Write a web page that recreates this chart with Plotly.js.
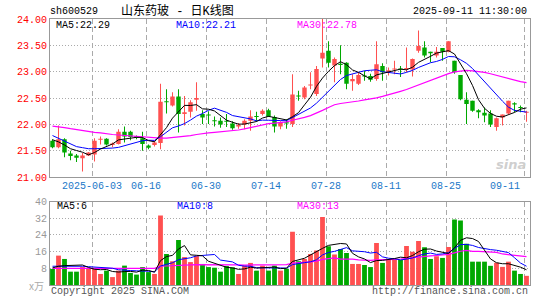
<!DOCTYPE html>
<html><head><meta charset="utf-8">
<script src="https://cdn.plot.ly/plotly-3.0.1.min.js"></script>
<style>html,body{margin:0;padding:0;background:#fff}#chart{width:545px;height:300px}</style>
</head><body><div id="chart"></div>
<script>
const dates = ['2025-05-22','2025-05-23','2025-05-26','2025-05-27','2025-05-28','2025-05-29','2025-05-30',
'2025-06-03','2025-06-04','2025-06-05','2025-06-06','2025-06-09','2025-06-10','2025-06-11','2025-06-12','2025-06-13','2025-06-16','2025-06-17','2025-06-18','2025-06-19','2025-06-20','2025-06-23','2025-06-24','2025-06-25','2025-06-26','2025-06-27','2025-06-30',
'2025-07-01','2025-07-02','2025-07-03','2025-07-04','2025-07-07','2025-07-08','2025-07-09','2025-07-10','2025-07-11','2025-07-14','2025-07-15','2025-07-16','2025-07-17','2025-07-18','2025-07-21','2025-07-22','2025-07-23','2025-07-24','2025-07-25','2025-07-28','2025-07-29','2025-07-30','2025-07-31',
'2025-08-01','2025-08-04','2025-08-05','2025-08-06','2025-08-07','2025-08-08','2025-08-11','2025-08-12','2025-08-13','2025-08-14','2025-08-15','2025-08-18','2025-08-19','2025-08-20','2025-08-21','2025-08-22','2025-08-25','2025-08-26','2025-08-27','2025-08-28','2025-08-29',
'2025-09-01','2025-09-02','2025-09-03','2025-09-04','2025-09-05','2025-09-08','2025-09-09','2025-09-10','2025-09-11'];

const openP = [21.69,21.57,21.72,21.45,21.41,21.36,21.41,21.43,21.71,21.73,
21.61,21.63,21.86,21.86,21.78,21.74,21.60,21.61,21.65,22.44,
22.36,22.53,22.20,22.24,22.47,22.20,22.18,22.07,22.07,22.06,
22.02,21.96,22.00,22.07,22.16,22.20,22.27,22.14,21.96,22.04,
22.01,22.55,22.51,22.74,22.58,23.25,23.40,23.12,23.15,23.17,
22.82,22.77,22.93,22.92,22.86,23.11,22.99,23.04,23.06,23.05,
23.04,23.40,23.46,23.38,23.31,23.45,23.38,23.21,22.94,22.47,
22.45,22.27,22.22,22.21,21.95,22.13,22.21,22.40,22.33,22.22];

const highP = [21.72,21.98,21.74,21.50,21.44,21.46,21.48,21.74,21.77,21.74,
21.66,21.91,21.96,21.88,21.79,21.86,21.62,21.68,22.77,22.67,
22.61,22.67,22.54,22.46,22.80,22.27,22.25,22.15,22.13,22.20,
22.06,22.03,22.10,22.27,22.24,22.29,22.30,22.17,22.06,22.10,
22.95,22.64,22.73,22.99,23.11,24.00,23.58,23.27,23.50,23.18,
22.95,22.99,23.02,22.96,23.58,23.16,23.08,23.21,23.11,23.46,
23.25,23.78,23.58,23.38,23.47,23.45,23.58,23.21,22.94,22.61,
22.45,22.29,22.32,22.27,22.13,22.19,22.45,22.42,22.36,22.26];

const lowP = [21.55,21.55,21.38,21.32,21.29,21.11,21.40,21.30,21.62,21.60,
21.57,21.62,21.66,21.70,21.72,21.50,21.53,21.58,21.53,22.21,
22.34,21.85,21.98,22.13,22.26,22.01,22.01,21.96,21.94,21.95,
21.90,21.92,21.91,21.88,22.05,22.17,22.14,21.85,21.91,21.92,
21.95,22.45,22.48,22.67,22.54,23.08,23.08,22.80,22.95,22.67,
22.64,22.75,22.83,22.81,22.83,22.83,22.93,22.95,22.90,22.99,
22.91,23.36,23.27,23.18,23.27,23.21,23.37,22.96,22.46,22.01,
22.24,22.12,22.04,21.95,21.88,21.98,22.18,22.23,22.23,22.05];

const closeP = [21.57,21.72,21.47,21.40,21.37,21.41,21.47,21.69,21.73,21.62,
21.64,21.86,21.77,21.76,21.75,21.63,21.56,21.66,22.43,22.42,
22.53,22.20,22.23,22.42,22.50,22.13,22.17,22.06,22.00,22.05,
21.93,21.99,22.07,22.15,22.14,22.26,22.15,21.96,22.04,22.02,
22.57,22.53,22.70,22.76,23.05,23.36,23.17,23.24,23.13,22.77,
22.86,22.94,22.91,22.85,23.14,22.99,23.03,23.05,23.04,23.07,
23.24,23.49,23.31,23.35,23.38,23.38,23.58,22.99,22.48,22.39,
22.26,22.23,22.17,22.00,22.12,22.19,22.45,22.38,22.31,22.24];

// volume, 万手
const volume = [7.7,14.1,12.5,6.4,6.4,8.6,8.2,8.2,5.3,6.9,
3.8,6.9,9.3,5.8,5.0,8.6,6.2,5.3,33.3,14.9,
11.4,21.6,13.4,11.0,13.9,10.1,8.6,8.3,6.4,9.1,
8.5,5.3,9.3,10.6,6.9,9.3,6.9,9.3,6.9,7.8,
25.6,11.4,12.5,14.9,16.5,32.6,18.6,14.6,17.3,15.4,
10.1,10.1,9.6,8.6,20.2,10.6,12.0,12.0,12.0,18.7,
16.0,21.1,18.1,12.5,13.8,13.0,18.2,31.4,30.9,19.8,
11.2,11.2,11.2,9.2,10.7,8.7,11.2,6.9,5.3,4.4];

// moving-average values before a full window is available
const priceMa5Head = [21.71,21.67,21.61,21.54];
const priceMa10Head = [21.79,21.74,21.68,21.63,21.58,21.56,21.54,21.54,21.54];
const priceMa30Head = [21.97,21.96,21.94,21.92,21.90,21.89,21.87,21.85,21.84,21.82,
21.81,21.80,21.79,21.78,21.77,21.76,21.75,21.74,21.74,21.74,
21.75,21.76,21.78,21.79,21.81,21.83,21.84,21.85,21.86];
const volMa5Head = [8.2,9.0,9.3,9.4];
const volMa10Head = [9.0,9.0,9.2,9.2,9.1,9.0,8.8,8.7,8.5];
const volMa30Head = [8.0,8.0,8.0,8.0,8.0,8.0,8.0,8.0,8.0,8.0,
8.0,8.0,8.0,8.0,8.0,8.0,8.0,8.0,9.0,9.2,
9.3,9.6,9.7,9.7,9.8,9.8,9.8,9.8,9.8];

const tickDates = ['2025-06-03','2025-06-16','2025-06-30','2025-07-14','2025-07-28','2025-08-11','2025-08-25','2025-09-11'];
const tickLabels = ['2025-06-03','06-16','06-30','07-14','07-28','08-11','08-25','09-11'];
const priceTicks = [21.0,21.5,22.0,22.5,23.0,23.5,24.0];
const volTicks = [8,16,24,32,40];

const titleCode = 'sh600529';
const titleName = '山东药玻 - 日K线图';
const titleTime = '2025-09-11 11:30:00';
const priceMaLabels = ['MA5:22.29','MA10:22.21','MA30:22.78'];
const volMaLabels = ['MA5:6','MA10:8','MA30:13'];

// ---------- build ----------
const RED = '#ff5050', GREEN = '#00a800';
const idx = dates.map((d,i)=>i);
const up = closeP.map((c,i)=> c >= openP[i]);
const candleColor = up.map(u => u ? RED : GREEN);

function movingAvg(vals, n, head){
  return vals.map((v,i)=>{
    if (i < n-1) return head[i];
    let s = 0; for (let k=i-n+1;k<=i;k++) s += vals[k];
    return s/n;
  });
}
const pMa5 = movingAvg(closeP,5,priceMa5Head);
const pMa10 = movingAvg(closeP,10,priceMa10Head);
const pMa30 = movingAvg(closeP,30,priceMa30Head);
const vMa5 = movingAvg(volume,5,volMa5Head);
const vMa10 = movingAvg(volume,10,volMa10Head);
const vMa30 = movingAvg(volume,30,volMa30Head);

const bodyBase = openP.map((o,i)=>Math.min(o,closeP[i]));
const bodyLen = openP.map((o,i)=>Math.max(Math.abs(closeP[i]-o),0.02));
const wickLen = highP.map((h,i)=>h-lowP[i]);

const GRID_SHIFT = -0.37;
const tickPos = tickDates.map(d => dates.indexOf(d) + GRID_SHIFT);

const MONO = 'Liberation Mono, Courier New, monospace';

const traces = [
  {type:'bar', x:idx, y:wickLen, base:lowP, width:0.17, marker:{color:candleColor, line:{width:0}}, xaxis:'x', yaxis:'y', hoverinfo:'skip'},
  {type:'bar', x:idx, y:bodyLen, base:bodyBase, width:0.74, marker:{color:candleColor, line:{width:0}}, xaxis:'x', yaxis:'y', hoverinfo:'skip'},
  {type:'scatter', mode:'lines', x:idx, y:pMa30, line:{color:'#ff00ff', width:1.2}, xaxis:'x', yaxis:'y'},
  {type:'scatter', mode:'lines', x:idx, y:pMa10, line:{color:'#0000ff', width:1}, xaxis:'x', yaxis:'y'},
  {type:'scatter', mode:'lines', x:idx, y:pMa5, line:{color:'#000000', width:1}, xaxis:'x', yaxis:'y'},
  {type:'bar', x:idx, y:volume, width:0.8, marker:{color:candleColor, line:{width:0}}, xaxis:'x2', yaxis:'y2', hoverinfo:'skip'},
  {type:'scatter', mode:'lines', x:idx, y:vMa30, line:{color:'#ff00ff', width:1.2}, xaxis:'x2', yaxis:'y2'},
  {type:'scatter', mode:'lines', x:idx, y:vMa10, line:{color:'#0000ff', width:1}, xaxis:'x2', yaxis:'y2'},
  {type:'scatter', mode:'lines', x:idx, y:vMa5, line:{color:'#000000', width:1}, xaxis:'x2', yaxis:'y2'}
];

// pixel helpers for text placement
const L=50, R=530, T=18.5, B=285;
const px = x => (x-L)/(R-L);
const py = y => (B-y)/(B-T);
function txt(text, x, y, color, size, anchor, family){
  return {text:text, xref:'paper', yref:'paper', x:px(x), y:py(y), xanchor:anchor||'left', yanchor:'middle',
    showarrow:false, font:{family:family||MONO, size:size||10, color:color||'#000'}};
}

// date labels under the price panel, tied to the x axis
const dateAnnotations = tickLabels.map((t,i)=>{
  const last = i === tickLabels.length-1;
  return {text:t, xref:'x', yref:'paper', x:tickPos[i], y:py(186), xanchor: last ? 'right' : 'center', yanchor:'middle',
    xshift: last ? -2 : 0, showarrow:false, font:{family:MONO, size:10, color:'#1a78c8'}};
});

const xr = [-0.4167, idx.length-0.4167];
const axBase = {showline:true, linecolor:'#999', linewidth:1, mirror:true, zeroline:false, ticks:'', fixedrange:true};

const layout = {
  width:545, height:300, margin:{l:L, r:545-R, t:T, b:300-B, pad:0},
  paper_bgcolor:'#fff', plot_bgcolor:'#fff', showlegend:false, barmode:'overlay', hovermode:false,
  xaxis:Object.assign({}, axBase, {anchor:'y', domain:[0,1], range:xr, tickmode:'array', tickvals:tickPos, showticklabels:false,
    showgrid:true, gridcolor:'#aaa', gridwidth:1, griddash:'5px,3px'}),
  yaxis:Object.assign({}, axBase, {anchor:'x', domain:[(B-177)/(B-T),1], range:[21,24], tickmode:'array', tickvals:priceTicks,
    tickformat:'.2f', showgrid:true, gridcolor:'#aaa', gridwidth:1, griddash:'1px,2px', tickfont:{family:MONO, size:10, color:'#ff0000'}}),
  xaxis2:Object.assign({}, axBase, {anchor:'y2', domain:[0,1], range:xr, tickmode:'array', tickvals:tickPos, showticklabels:false,
    showgrid:true, gridcolor:'#aaa', gridwidth:1, griddash:'5px,3px'}),
  yaxis2:Object.assign({}, axBase, {anchor:'x2', domain:[0,(B-201.5)/(B-T)], range:[0,40], tickmode:'array', tickvals:volTicks,
    showgrid:true, gridcolor:'#aaa', gridwidth:1, griddash:'1px,2px', tickfont:{family:MONO, size:10, color:'#999'}}),
  annotations:[
    txt(titleCode, 48, 11, '#000', 10),
    txt(titleName, 119, 11, '#000', 12, 'left', 'Liberation Mono, Noto Sans CJK SC'),
    txt(titleTime, 529, 11, '#000', 10, 'right'),
    txt(priceMaLabels[0], 54, 25, '#000', 10),
    txt(priceMaLabels[1], 173.5, 25, '#0000ff', 10),
    txt(priceMaLabels[2], 294.5, 25, '#ff00ff', 10),
    txt(volMaLabels[0], 54.5, 206, '#000', 10),
    txt(volMaLabels[1], 174.5, 206, '#0000ff', 10),
    txt(volMaLabels[2], 294.5, 206, '#ff00ff', 10),
    txt('x万', 27, 286, '#aaa', 10, 'left', 'Noto Sans CJK SC'),
    txt('Copyright 2025 SINA.COM', 49, 292, '#555', 10),
    txt('http://finance.sina.com.cn', 530, 292, '#555', 10, 'right'),
    txt('<i><b>sina</b></i>', 528, 164, '#cfcfcf', 13, 'right', 'DejaVu Sans')
  ].concat(dateAnnotations)
};

Plotly.newPlot('chart', traces, layout, {staticPlot:true, displayModeBar:false});
</script>
</body></html>
